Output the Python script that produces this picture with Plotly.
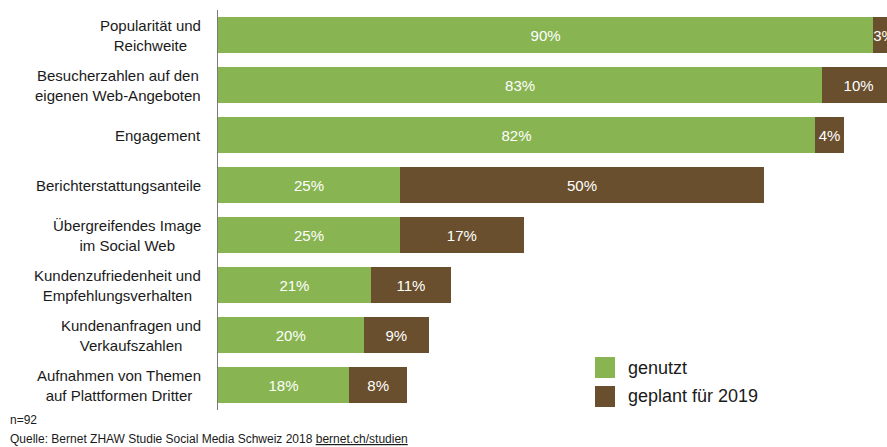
import plotly.graph_objects as go

# Survey results (percent of respondents), n=92
categories = [
    "Popularität und<br>Reichweite",
    "Besucherzahlen auf den<br>eigenen Web-Angeboten",
    "Engagement",
    "Berichterstattungsanteile",
    "Übergreifendes Image<br>im Social Web",
    "Kundenzufriedenheit und<br>Empfehlungsverhalten",
    "Kundenanfragen und<br>Verkaufszahlen",
    "Aufnahmen von Themen<br>auf Plattformen Dritter",
]
genutzt = [90, 83, 82, 25, 25, 21, 20, 18]
geplant_2019 = [3, 10, 4, 50, 17, 11, 9, 8]

series_names = ["genutzt", "geplant für 2019"]
GREEN = "#88B552"
BROWN = "#6A4F2E"
FONT = "Liberation Sans, Arial, sans-serif"

ypos = list(range(len(categories)))

fig = go.Figure()
for name, values, color in [
    (series_names[0], genutzt, GREEN),
    (series_names[1], geplant_2019, BROWN),
]:
    fig.add_trace(go.Bar(
        y=ypos,
        x=values,
        orientation="h",
        name=name,
        marker=dict(color=color, line=dict(width=0)),
        width=0.72,
        text=[f"{v}%" for v in values],
        textposition="inside",
        insidetextanchor="middle",
        textangle=0,
        constraintext="none",
        textfont=dict(color="white", size=15, family=FONT),
        showlegend=False,
        hoverinfo="skip",
    ))

# Category labels: centred multi-line blocks, right-aligned next to the axis
for i, label in enumerate(categories):
    fig.add_annotation(
        x=0, xref="paper", xshift=-15, xanchor="right",
        y=i, yref="y", yanchor="middle",
        text=label, align="center", showarrow=False,
        font=dict(size=15, color="#1a1a1a", family=FONT),
    )

# Legend drawn as swatches + labels
legend_rows = [(0.1325, 0.08, 0.106, GREEN), (0.06, 0.0075, 0.034, BROWN)]
for (y_top, y_bot, y_txt, color), name in zip(legend_rows, series_names):
    fig.add_shape(
        type="rect", xref="paper", yref="paper",
        x0=0.5635, x1=0.5934, y0=y_bot, y1=y_top,
        fillcolor=color, line=dict(width=0),
    )
    fig.add_annotation(
        x=0.6099, xref="paper", xanchor="left",
        y=y_txt, yref="paper", yanchor="middle",
        text=name, showarrow=False,
        font=dict(size=18, color="#1a1a1a", family=FONT),
    )

# Footer notes
fig.add_annotation(
    x=-0.3139, xref="paper", xanchor="left",
    y=-0.026, yref="paper", yanchor="middle",
    text="n=92", showarrow=False,
    font=dict(size=12, color="#1a1a1a", family=FONT),
)
fig.add_annotation(
    x=-0.3139, xref="paper", xanchor="left",
    y=-0.0725, yref="paper", yanchor="middle",
    text="Quelle: Bernet ZHAW Studie Social Media Schweiz 2018 "
         "<span style='text-decoration:underline'>bernet.ch/studien</span>",
    showarrow=False,
    font=dict(size=12, color="#1a1a1a", family=FONT),
)

fig.update_layout(
    width=887, height=447,
    barmode="stack",
    margin=dict(l=218, r=0, t=10, b=37),
    plot_bgcolor="white", paper_bgcolor="white",
    font=dict(family=FONT, color="#1a1a1a"),
    xaxis=dict(range=[0, 91.9], showgrid=False, zeroline=False,
               showticklabels=False, showline=False, fixedrange=True),
    yaxis=dict(range=[7.5, -0.5], showgrid=False, zeroline=False,
               showticklabels=False, showline=True, linecolor="#7a7a7a",
               linewidth=1, ticks="", fixedrange=True),
)

fig.write_html("out.html", config={"displayModeBar": False})
